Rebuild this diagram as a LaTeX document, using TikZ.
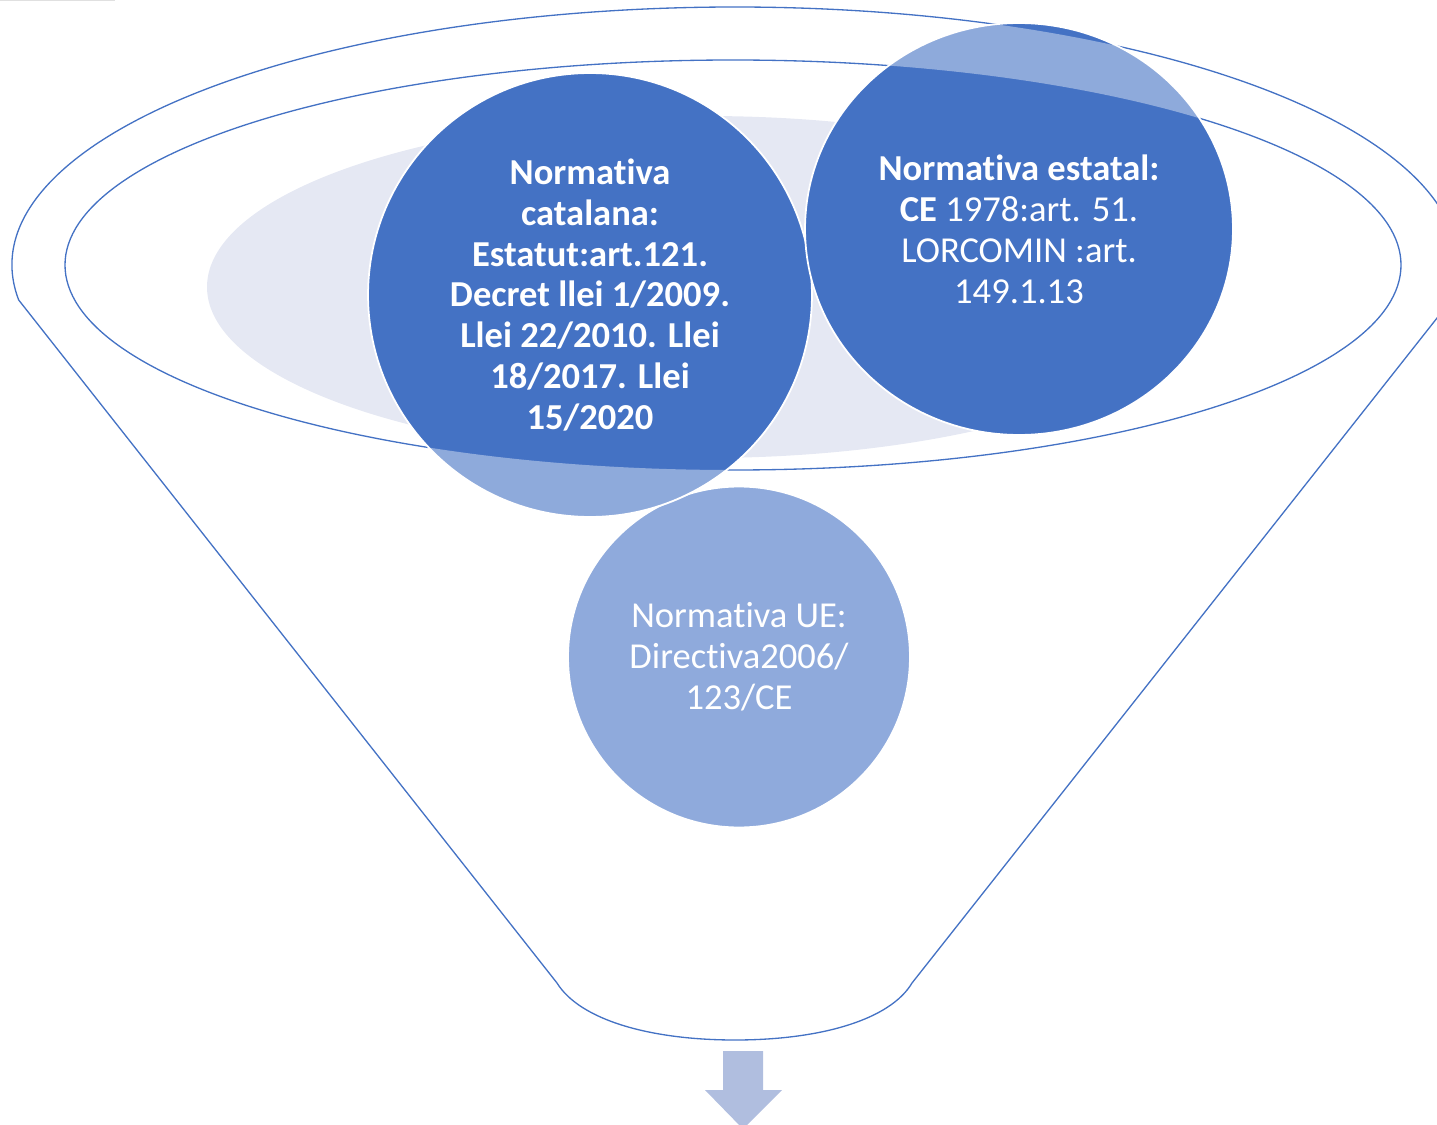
\documentclass[tikz,border=0pt]{standalone}
\usepackage{fontspec}
\setmainfont{Carlito}[Ligatures=NoCommon]
\usetikzlibrary{shapes.geometric}
\definecolor{azul}{RGB}{68,114,196}
\definecolor{azulclaro}{RGB}{143,170,220}
\definecolor{grisazul}{RGB}{229,232,243}
\definecolor{flecha}{RGB}{176,190,223}
\tikzset{
  burbuja/.style={ellipse, draw=white, line width=1pt, fill=azul, text=white,
    align=center, inner sep=0pt, font=\fontsize{20.8}{23.3}\selectfont},
  linea/.style={draw=azul, line width=0.75pt}
}
\begin{document}
\begin{tikzpicture}[x=0.02cm, y=-0.02cm]
        % Marco de la imagen
        \useasboundingbox (0,0) rectangle (1437,1125);
        \clip (0,0) rectangle (1437,1125);
        \draw[black!12, line width=1pt] (0,0.5) -- (115,0.5);
        % Elipse gris del fondo
        \fill[grisazul] (705,287) ellipse[x radius=498, y radius=171];
        % Embudo: borde exterior
        \coordinate (bordeizq) at (18.7,300);
        \coordinate (fondoder) at (912,983);
        \coordinate (fondoizq) at (557,983);
        \coordinate (fondo) at (735,1040);
        \draw[linea] (bordeizq) arc[start angle=172.2, end angle=367.8, x radius=723, y radius=258]
          -- (fondoder) .. controls (890,1020) and (820,1040) .. (fondo)
          .. controls (650,1040) and (580,1020) .. (fondoizq) -- cycle;
        % Embudo: boca interior
        \draw[linea] (733,265) ellipse[x radius=668, y radius=205];
        % Circulos con la normativa
        \node[burbuja, fill=azulclaro, minimum width=6.84cm, minimum height=6.82cm] (ue) at (739,657)
          {Normativa UE:\\Directiva2006/\\123/CE};
        \node[burbuja, minimum width=8.88cm, minimum height=8.88cm] (cat) at (590,295)
          {\bfseries Normativa\\\bfseries catalana:\\\bfseries Estatut:art.121.\\\bfseries Decret llei 1/2009.\\\bfseries Llei 22/2010. Llei\\\bfseries 18/2017. Llei\\\bfseries 15/2020};
        \node[burbuja, minimum width=8.56cm, minimum height=8.24cm] (est) at (1019,229)
          {\textbf{Normativa estatal:}\\\textbf{CE} 1978:art. 51.\\LORCOMIN :art.\\149.1.13};
        % Parte de los circulos dentro del anillo del embudo
        \begin{scope}[even odd rule]
          \clip (735,265) ellipse[x radius=723, y radius=258]
            (733,265) ellipse[x radius=668, y radius=205];
          \fill[white, opacity=0.4] (cat.center) ellipse[x radius=223, y radius=223];
          \fill[white, opacity=0.4] (est.center) ellipse[x radius=215, y radius=207];
        \end{scope}
        % Flecha de salida
        \fill[flecha] (723,1051) -- (763,1051) -- (763,1090) -- (782,1090) -- (743,1129)
          -- (705,1090) -- (723,1090) -- cycle;
\end{tikzpicture}
\end{document}
